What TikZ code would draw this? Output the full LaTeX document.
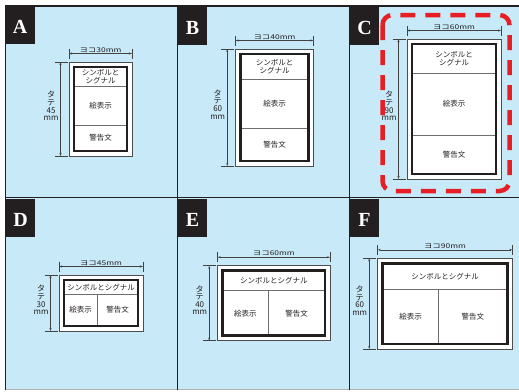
\documentclass[tikz,border=0pt]{standalone}
\usepackage{fontspec}
\usetikzlibrary{arrows.meta,calc}
\newfontfamily\jp{Noto Sans CJK JP}
\newfontfamily\jpw[FakeStretch=1.3]{Noto Sans CJK JP}
\newfontfamily\tagserif{Liberation Serif}
\definecolor{bgblue}{RGB}{199,233,248}
\definecolor{inkdark}{RGB}{35,31,32}
\definecolor{dashred}{RGB}{232,30,37}
\tikzset{
 cellbg/.style={fill=bgblue,draw=none},
 gridline/.style={draw=inkdark,line width=1.3pt},
 bottomline/.style={draw=inkdark!35,line width=0.6pt},
 tagbg/.style={fill=inkdark,draw=none,minimum width=29pt,minimum height=38.5pt,inner sep=0pt,anchor=north west},
 tagletter/.style={text=white,font=\tagserif\bfseries\fontsize{20}{20}\selectfont,inner sep=0pt,anchor=base},
 outerbox/.style={draw=inkdark!80,line width=0.7pt,fill=white},
 innerbox/.style={draw=inkdark,line width=2.6pt},
 divider/.style={draw=inkdark!65,line width=0.9pt},
 dimline/.style={draw=inkdark!85,line width=0.5pt,arrows={Stealth[length=3pt,width=2pt]-Stealth[length=3pt,width=2pt]}},
 dimtick/.style={draw=inkdark!85,line width=0.5pt},
 jptext/.style={font=\jp\fontsize{7.5}{8.5}\selectfont,text=inkdark,inner sep=0pt,align=center},
 dimtext/.style={font=\jpw\fontsize{6.5}{7}\selectfont,text=inkdark,inner sep=0pt,anchor=base},
 vtext/.style={font=\jp\fontsize{8}{7.6}\selectfont,text=inkdark,inner sep=0pt,align=center},
 reddash/.style={draw=dashred,line width=4.5pt,dash pattern=on 15pt off 10pt,rounded corners=10pt},
}
\newcommand\tagcell[3]{%
 \node[tagbg] (tag#1) at (#2,#3) {};
 \node[tagletter] (let#1) at ({#2+14.5},{#3+28}) {#1};
}
% common frame + dimensions: #1 name, #2 x0, #3 y0, #4 x1, #5 y1, #6 width label, #7 height label
\newcommand\signframe[7]{%
 \coordinate (#1nw) at (#2,#3);
 \coordinate (#1se) at (#4,#5);
 \draw[outerbox] (#1nw) rectangle (#1se);
 \coordinate (#1hl) at (#2,{#3-8.5});
 \coordinate (#1hr) at (#4,{#3-8.5});
 \draw[dimtick] ($(#1hl)+(0,-5)$) -- ($(#1hl)+(0,5)$);
 \draw[dimtick] ($(#1hr)+(0,-5)$) -- ($(#1hr)+(0,5)$);
 \draw[dimline] (#1hl) -- (#1hr);
 \node[dimtext] (#1wlab) at ({(#2+#4)/2},{#3-10}) {ヨコ#6mm};
 \coordinate (#1vt) at ({#2-8.5},#3);
 \coordinate (#1vb) at ({#2-8.5},#5);
 \draw[dimtick] ($(#1vt)+(-6,0)$) -- ($(#1vt)+(7,0)$);
 \draw[dimtick] ($(#1vb)+(-6,0)$) -- ($(#1vb)+(7,0)$);
 \draw[dimline] (#1vt) -- (#1vb);
 \node[vtext] (#1hlab) at ({#2-18},{(#3+#5)/2-3}) {タ\\テ\\#7\\mm};
}
% vertical layout: #1 name, #2 x0, #3 y0, #4 x1, #5 y1, #6 div1 y, #7 div2 y
\newcommand\vpanel[7]{%
 \coordinate (#1d1l) at ({#2+5},#6); \coordinate (#1d1r) at ({#4-5},#6);
 \coordinate (#1d2l) at ({#2+5},#7); \coordinate (#1d2r) at ({#4-5},#7);
 \draw[divider] (#1d1l) -- (#1d1r);
 \draw[divider] (#1d2l) -- (#1d2r);
 \coordinate (#1inw) at ({#2+5},{#3+5});
 \coordinate (#1ise) at ({#4-5},{#5-5});
 \draw[innerbox] (#1inw) rectangle (#1ise);
 \node[jptext] (#1sym) at ({(#2+#4)/2},{(#3+5+#6)/2}) {シンボルと\\シグナル};
 \node[jptext] (#1pic) at ({(#2+#4)/2},{(#6+#7)/2}) {絵表示};
 \node[jptext] (#1warn) at ({(#2+#4)/2},{(#7+#5-5)/2}) {警告文};
}
% horizontal layout: #1 name, #2 x0, #3 y0, #4 x1, #5 y1, #6 div y, #7 div x
\newcommand\hpanel[7]{%
 \coordinate (#1d1l) at ({#2+5},#6); \coordinate (#1d1r) at ({#4-5},#6);
 \coordinate (#1d2t) at (#7,#6); \coordinate (#1d2b) at (#7,{#5-5});
 \draw[divider] (#1d1l) -- (#1d1r);
 \draw[divider] (#1d2t) -- (#1d2b);
 \coordinate (#1inw) at ({#2+5},{#3+5});
 \coordinate (#1ise) at ({#4-5},{#5-5});
 \draw[innerbox] (#1inw) rectangle (#1ise);
 \node[jptext] (#1sym) at ({(#2+#4)/2},{(#3+5+#6)/2}) {シンボルとシグナル};
 \node[jptext] (#1pic) at ({(#2+5+#7)/2},{(#6+#5-5)/2}) {絵表示};
 \node[jptext] (#1warn) at ({(#7+#4-5)/2},{(#6+#5-5)/2}) {警告文};
}
\begin{document}
\begin{tikzpicture}[x=1pt,y=-1pt]
\useasboundingbox (0,0) rectangle (519,391);
% background cells
\fill[cellbg] (5.5,6) rectangle (519,389.5);
% grid
\draw[bottomline] (5.5,389.5) -- (519,389.5);
\draw[gridline] (5.5,389.5) -- (5.5,6) -- (519,6);
\draw[gridline] (177.8,6) -- (177.8,389.5);
\draw[gridline] (349.8,6) -- (349.8,389.5);
\draw[gridline] (5.5,197.8) -- (519,197.8);
% tags
\tagcell{A}{5.5}{5.5}
\tagcell{B}{178}{6}
\tagcell{C}{350}{6.5}
\tagcell{D}{6}{198.5}
\tagcell{E}{178}{198.5}
\tagcell{F}{350}{198.5}
% highlight around C
\draw[reddash] (382.5,15) rectangle (509.5,191);
% signs
\signframe{A}{69}{62}{132}{156}{30}{45}
\vpanel{A}{69}{62}{132}{156}{86}{125}
\signframe{B}{235.7}{49}{313.3}{166}{40}{60}
\vpanel{B}{235.7}{49}{313.3}{166}{79}{128}
\signframe{C}{407}{39}{501}{179}{60}{90}
\vpanel{C}{407}{39}{501}{179}{73}{135}
\signframe{D}{59}{275}{143}{331}{45}{30}
\hpanel{D}{59}{275}{143}{331}{294.3}{97.3}
\signframe{E}{217.7}{265.7}{330}{340.7}{60}{40}
\hpanel{E}{217.7}{265.7}{330}{340.7}{290.7}{268}
\signframe{F}{377.7}{258.3}{512.3}{349}{90}{60}
\hpanel{F}{377.7}{258.3}{512.3}{349}{289.3}{438.3}
\end{tikzpicture}
\end{document}
